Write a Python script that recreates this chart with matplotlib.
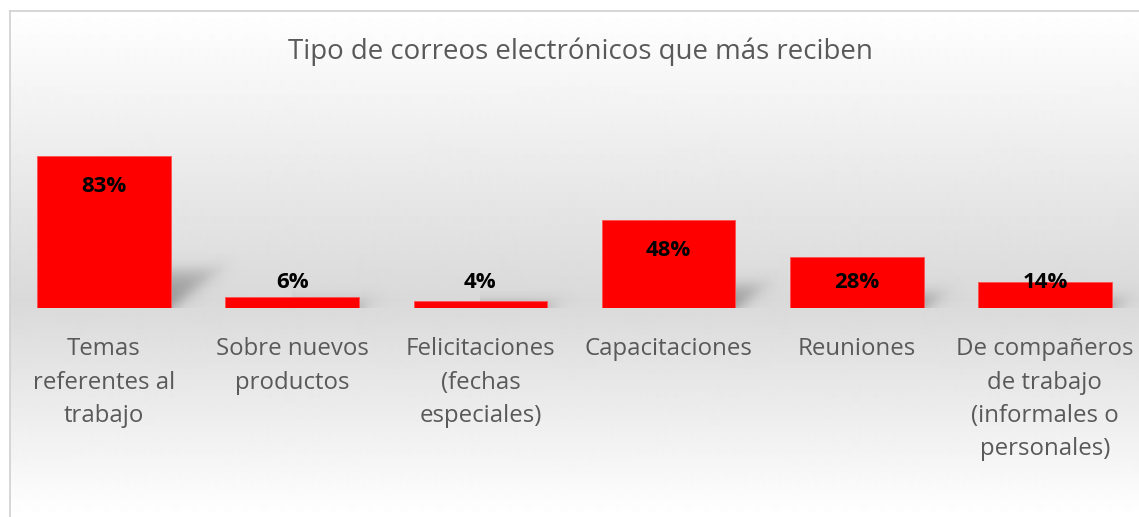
import numpy as np
import matplotlib.pyplot as plt

# Chart data
categories = ["Temas\nreferentes al\ntrabajo", "Sobre nuevos\nproductos",
              "Felicitaciones\n(fechas\nespeciales)", "Capacitaciones",
              "Reuniones", "De compañeros\nde trabajo\n(informales o\npersonales)"]
values = [83, 6, 4, 48, 28, 14]
title = "Tipo de correos electrónicos que más reciben"

plt.rcParams['font.family'] = ['Open Sans', 'DejaVu Sans']

W, H = 1139, 517
fig = plt.figure(figsize=(W / 100, H / 100), dpi=100)
fig.patch.set_facecolor('white')

# Background panel with vertical gradient (white -> gray -> white)
bg = fig.add_axes([10 / W, 0, (W - 10) / W, (H - 11) / H])
rows = np.arange(11, H)
g = np.interp(rows, [11, 300, H], [255, 217, 255]) / 255.0
grad = np.repeat(g[:, None], 2, axis=1)
bg.imshow(grad, cmap='gray', vmin=0, vmax=1, aspect='auto',
          extent=[0, 1, 0, 1], interpolation='bilinear')
bg.set_xticks([])
bg.set_yticks([])
for side in ['right', 'bottom']:
    bg.spines[side].set_visible(False)
for side in ['left', 'top']:
    bg.spines[side].set_color('#d0d0d0')
    bg.spines[side].set_linewidth(1.2)

# Main bar axes
ax = fig.add_axes([10 / W, (H - 308) / H, (W - 10) / W, 183 / H])
ax.patch.set_alpha(0)
x = np.arange(len(values))
bw = 0.71


def sig(t):
    return 1.0 / (1.0 + np.exp(-t))


# soft perspective shadows behind bars
for xi, v in zip(x, values):
    s = 0.24 * v + 1.0
    dx = 0.012 * s
    xl, xr = xi - bw / 2, xi + bw / 2
    x0, x1 = xi, xr + dx + 0.2
    y0, y1 = 0, s + 10
    uu, yy = np.meshgrid(np.linspace(x0, x1, 160), np.linspace(y0, y1, 120))
    edge = xr + dx * yy / s
    a = sig((edge - uu) / 0.035) * sig((s - yy) / 2.6) * (0.35 + 0.65 * (1 - yy / y1))
    img = np.zeros(uu.shape + (4,))
    img[..., :3] = 0.25
    img[..., 3] = 0.5 * a
    ax.imshow(img, extent=[x0, x1, y0, y1], origin='lower', aspect='auto',
              interpolation='bilinear', zorder=1)

bars = ax.bar(x, values, width=bw, color='#ff0000', edgecolor='#ff5050',
              linewidth=0.6, zorder=3)

for xi, v in zip(x, values):
    ax.text(xi, max(v - 16.5, 14), f"{v}%", ha='center', va='center',
            fontsize=16, fontweight='bold', color='black', zorder=4)

ax.set_xlim(-0.5, len(values) - 0.5)
ax.set_ylim(0, 100)
ax.set_yticks([])
ax.set_xticks(x)
ax.set_xticklabels(categories, fontsize=17.3, color='#595959', linespacing=1.52)
ax.tick_params(axis='x', length=0, pad=21)
for side in ['left', 'right', 'top', 'bottom']:
    ax.spines[side].set_visible(False)

fig.text(580 / W, 1 - 52 / H, title, ha='center', va='center',
         fontsize=19.9, color='#595959')

fig.savefig('out.png', dpi=100)
